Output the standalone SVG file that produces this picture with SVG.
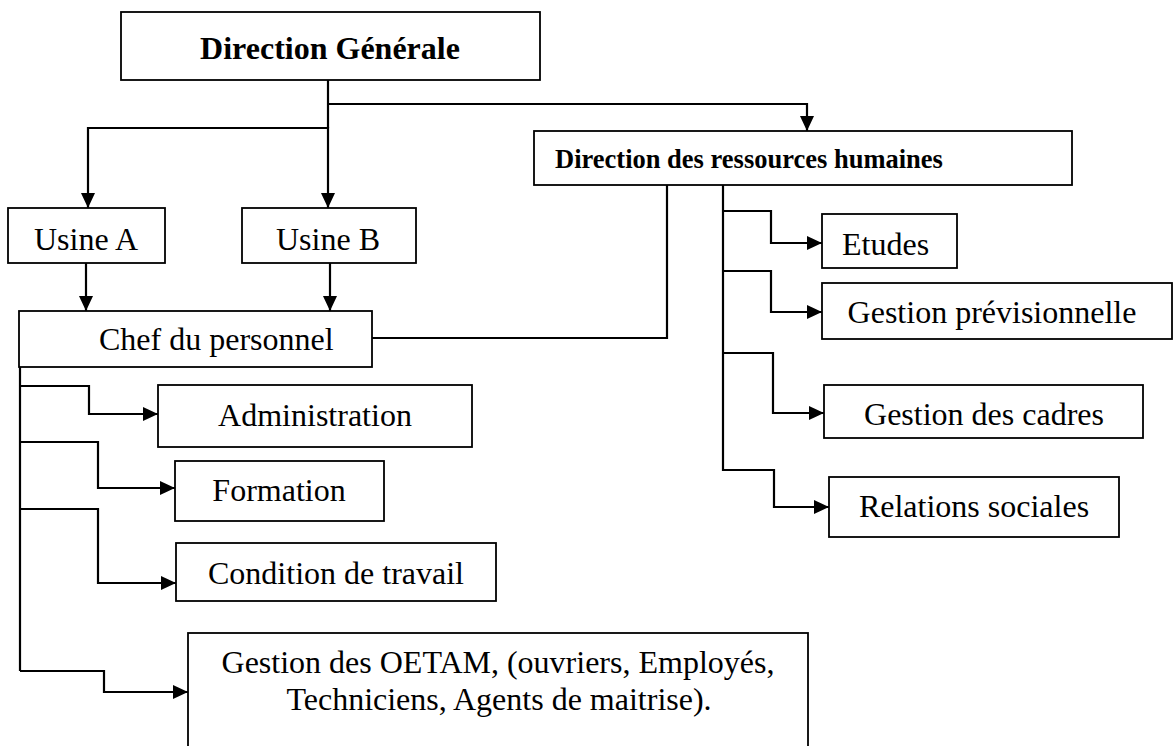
<svg xmlns="http://www.w3.org/2000/svg" width="1174" height="746" viewBox="0 0 1174 746">
<style>
.box{fill:#fff;stroke:#000;stroke-width:1.8}
.t{font-family:"Liberation Serif","Times New Roman",serif;font-size:32px;fill:#000}
.b{font-weight:bold}
.c{fill:none;stroke:#000;stroke-width:2.2}
.m{text-anchor:middle}
</style>
<defs>
<marker id="ah" markerUnits="userSpaceOnUse" markerWidth="16" markerHeight="14" refX="15" refY="7" orient="auto">
<path d="M0,0 L15,7 L0,14 z" fill="#000"/>
</marker>
</defs>
<rect width="1174" height="746" fill="#fff"/>
<g id="connectors">
<path class="c" d="M328,80 V128"/>
<path class="c" d="M328,104 H807 V131" marker-end="url(#ah)"/>
<path class="c" d="M88,128 H328"/>
<path class="c" d="M88,127 V208" marker-end="url(#ah)"/>
<path class="c" d="M328,127 V208" marker-end="url(#ah)"/>
<path class="c" d="M86,263 V311" marker-end="url(#ah)"/>
<path class="c" d="M330,263 V311" marker-end="url(#ah)"/>
<path class="c" d="M372,338 H667 V185"/>
<path class="c" d="M20,367 V671"/>
<path class="c" d="M20,386 H89 V414 H158" marker-end="url(#ah)"/>
<path class="c" d="M20,442 H98 V488 H175" marker-end="url(#ah)"/>
<path class="c" d="M20,509 H98 V583 H176" marker-end="url(#ah)"/>
<path class="c" d="M20,671 H104 V692 H188" marker-end="url(#ah)"/>
<path class="c" d="M723,185 V471"/>
<path class="c" d="M723,211 H771 V243 H822" marker-end="url(#ah)"/>
<path class="c" d="M723,271 H771 V312 H822" marker-end="url(#ah)"/>
<path class="c" d="M723,353 H773 V413 H824" marker-end="url(#ah)"/>
<path class="c" d="M723,470 H774 V507 H829" marker-end="url(#ah)"/>
</g>
<g id="n-dg"><rect class="box" x="121" y="12" width="419" height="68"/><text class="t b m" x="330" y="59">Direction Générale</text></g>
<g id="n-usineA"><rect class="box" x="8" y="208" width="157" height="55"/><text class="t m" x="86" y="250">Usine A</text></g>
<g id="n-usineB"><rect class="box" x="242" y="208" width="174" height="55"/><text class="t m" x="328" y="250">Usine B</text></g>
<g id="n-drh"><rect class="box" x="534" y="131" width="538" height="54"/><text class="t b" style="font-size:26.5px" x="555" y="168">Direction des ressources humaines</text></g>
<g id="n-chef"><rect class="box" x="19" y="311" width="353" height="56"/><text class="t" x="99" y="350">Chef du personnel</text></g>
<g id="n-admin"><rect class="box" x="158" y="385" width="314" height="62"/><text class="t m" x="315" y="426">Administration</text></g>
<g id="n-formation"><rect class="box" x="175" y="461" width="209" height="60"/><text class="t m" x="279" y="501">Formation</text></g>
<g id="n-condition"><rect class="box" x="176" y="543" width="320" height="58"/><text class="t m" x="336" y="584">Condition de travail</text></g>
<g id="n-oetam"><rect class="box" x="188" y="633" width="620" height="140"/><text class="t m" x="498" y="673">Gestion des OETAM, (ouvriers, Employés,</text><text class="t m" x="499" y="710">Techniciens, Agents de maitrise).</text></g>
<g id="n-etudes"><rect class="box" x="822" y="214" width="135" height="54"/><text class="t" x="842" y="255">Etudes</text></g>
<g id="n-gp"><rect class="box" x="822" y="283" width="350" height="56"/><text class="t m" x="992" y="323">Gestion prévisionnelle</text></g>
<g id="n-gc"><rect class="box" x="824" y="385" width="319" height="53"/><text class="t m" x="984" y="425">Gestion des cadres</text></g>
<g id="n-rs"><rect class="box" x="829" y="477" width="290" height="60"/><text class="t m" x="974" y="517">Relations sociales</text></g>
</svg>
